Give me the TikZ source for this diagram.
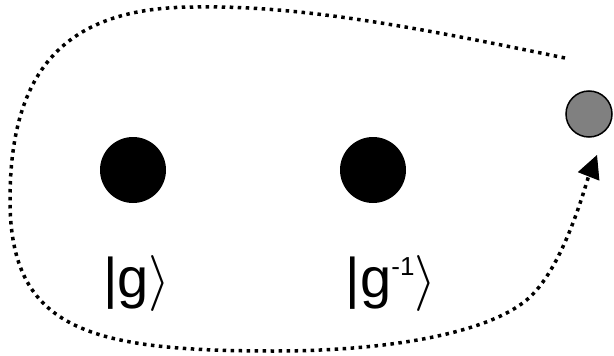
\RequirePackage{fix-cm}
\documentclass[tikz,border=0pt]{standalone}
\usepackage{fontspec}
\setmainfont{Liberation Sans}
\usetikzlibrary{arrows.meta}

\begin{document}
\begin{tikzpicture}[
        x=1pt, y=-1pt,
        >={Triangle[length=23pt, width=23pt, line width=1pt]},
        anyon/.style={circle, fill=black, minimum size=66pt, inner sep=0pt},
        testanyon/.style={circle, draw=black, line width=1.5pt, fill=gray, minimum size=46pt, inner sep=0pt},
        ket/.style={font=\fontsize{56}{60}\selectfont, inner sep=0pt, anchor=base},
        pathdots/.style={line width=3.5pt, dash pattern=on 3.5pt off 4.5pt}
    ]

    \useasboundingbox (0,0) rectangle (614,356);

    % Anyonen
    \node[anyon] (g) at (133,170) {};
    \node[anyon] (ginv) at (373,170) {};
    \node[testanyon] (probe) at (589,114) {};

    % Zustaende
    \node[ket] (lg) at (137,297) {|g\ensuremath{\rangle}};
    \node[ket] (lginv) at (391,297) {|g\raisebox{22pt}{\fontsize{26}{26}\selectfont -1}\ensuremath{\rangle}};

    % Weg um beide Anyonen
    \coordinate (tail) at (565,58);
    \coordinate (head) at (597,155);
    \draw[pathdots, ->] (tail) .. controls (420,28) and (300,5) .. (195,7)
        .. controls (65,7) and (10,70) .. (10,200)
        .. controls (10,330) and (90,351) .. (274,351)
        .. controls (400,351) and (495,330) .. (530,297)
        .. controls (565,264) and (586,183) .. (head);

\end{tikzpicture}
\end{document}
